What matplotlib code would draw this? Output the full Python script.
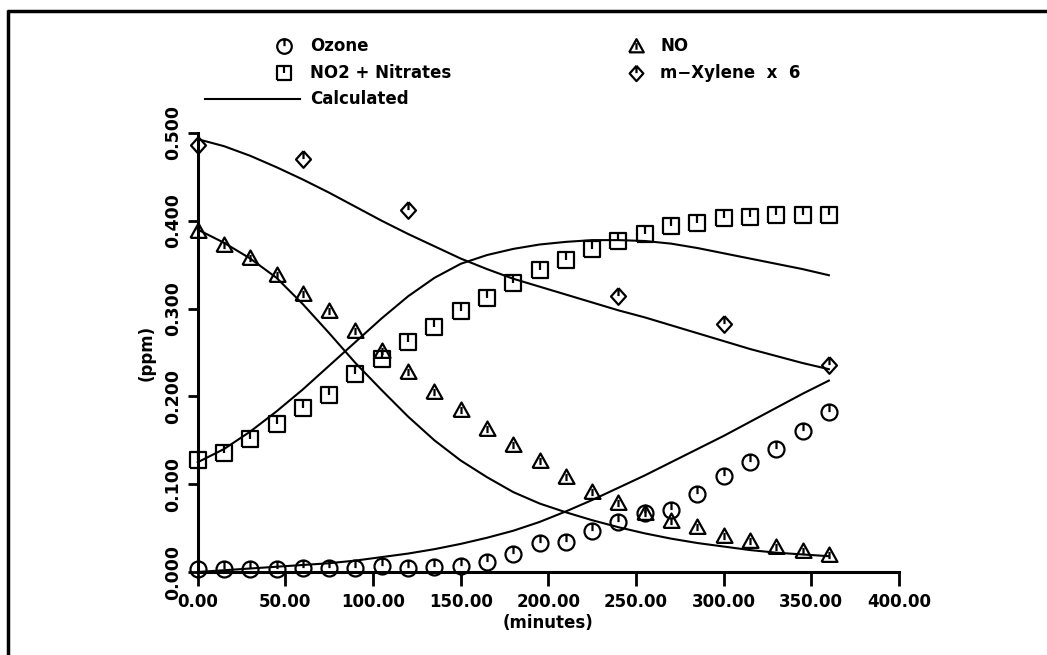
import numpy as np
import matplotlib
matplotlib.use("Agg")
import matplotlib.pyplot as plt
from matplotlib.path import Path
from matplotlib.lines import Line2D

# ---------------- data ----------------
t_obs = [0, 15, 30, 45, 60, 75, 90, 105, 120, 135, 150, 165, 180, 195, 210,
         225, 240, 255, 270, 285, 300, 315, 330, 345, 360]
ozone_obs = [0.003, 0.003, 0.003, 0.003, 0.005, 0.005, 0.005, 0.007, 0.004, 0.006,
             0.007, 0.011, 0.021, 0.033, 0.034, 0.047, 0.057, 0.067, 0.071, 0.089,
             0.109, 0.125, 0.140, 0.161, 0.182]
no_obs = [0.388, 0.372, 0.358, 0.338, 0.317, 0.297, 0.275, 0.252, 0.228, 0.205,
          0.184, 0.163, 0.145, 0.126, 0.108, 0.091, 0.079, 0.067, 0.058, 0.051,
          0.041, 0.035, 0.029, 0.024, 0.019]
no2_obs = [0.128, 0.136, 0.152, 0.168, 0.187, 0.202, 0.225, 0.243, 0.262, 0.279,
           0.297, 0.312, 0.329, 0.344, 0.355, 0.368, 0.377, 0.385, 0.394, 0.397,
           0.403, 0.404, 0.407, 0.407, 0.407]
t_xyl = [0, 60, 120, 240, 300, 360]
xyl_obs = [0.486, 0.470, 0.412, 0.314, 0.282, 0.236]

t_calc = [0, 15, 30, 45, 60, 75, 90, 105, 120, 135, 150, 165, 180, 195, 210,
          225, 240, 255, 270, 285, 300, 315, 330, 345, 360]
ozone_calc = [0.000, 0.002, 0.004, 0.006, 0.008, 0.010, 0.013, 0.017, 0.021, 0.026,
              0.032, 0.039, 0.047, 0.057, 0.069, 0.082, 0.096, 0.110, 0.125, 0.140,
              0.155, 0.171, 0.187, 0.203, 0.218]
no_calc = [0.390, 0.375, 0.357, 0.335, 0.305, 0.272, 0.238, 0.207, 0.177, 0.150,
           0.127, 0.108, 0.091, 0.078, 0.068, 0.059, 0.051, 0.044, 0.038, 0.033,
           0.029, 0.025, 0.022, 0.020, 0.018]
no2_calc = [0.125, 0.140, 0.160, 0.183, 0.208, 0.235, 0.262, 0.289, 0.314, 0.335,
            0.351, 0.361, 0.368, 0.373, 0.376, 0.378, 0.378, 0.377, 0.374, 0.369,
            0.363, 0.357, 0.351, 0.345, 0.338]
xyl_calc = [0.493, 0.485, 0.474, 0.461, 0.447, 0.432, 0.416, 0.400, 0.385, 0.371,
            0.357, 0.345, 0.334, 0.325, 0.316, 0.307, 0.298, 0.290, 0.281, 0.272,
            0.263, 0.254, 0.246, 0.238, 0.231]

x_ticks = [0, 50, 100, 150, 200, 250, 300, 350, 400]
y_ticks = [0.0, 0.1, 0.2, 0.3, 0.4, 0.5]
legend_labels = ["Ozone", "NO", "NO2 + Nitrates", "m\u2212Xylene  x  6", "Calculated"]

# ---------------- markers ----------------
M, L = Path.MOVETO, Path.LINETO

def with_tick(base_verts, tick):
    verts = list(base_verts) + [base_verts[0]] + list(tick)
    codes = [M] + [L] * (len(base_verts)) + [M, L]
    return Path(verts, codes)

circ = Path.unit_circle()
circle_mk = Path.make_compound_path(circ, Path([(0, 1), (0, 0.05)], [M, L]))
square_mk = with_tick([(-1, -1), (1, -1), (1, 1), (-1, 1)], [(0, 1), (0, 0.05)])
tri_mk = with_tick([(-1, -0.8), (1, -0.8), (0, 1)], [(0, 0.45), (0, -0.45)])
diam_mk = with_tick([(0, 1), (0.9, 0), (0, -1), (-0.9, 0)], [(0, 1), (0, 0.05)])

W, H = 1047, 655
fig = plt.figure(figsize=(W / 100, H / 100), dpi=100)
fig.patch.set_facecolor("white")
ax = fig.add_axes([197.7 / W, 1 - 572 / H, (899 - 197.7) / W, (572 - 133) / H])

lw = 1.5
mkw = dict(linestyle="none", markerfacecolor="none", markeredgecolor="black",
           markeredgewidth=1.6, clip_on=False)

ax.plot(t_calc, ozone_calc, color="black", lw=lw, clip_on=False)
ax.plot(t_calc, no_calc, color="black", lw=lw, clip_on=False)
ax.plot(t_calc, no2_calc, color="black", lw=lw, clip_on=False)
ax.plot(t_calc, xyl_calc, color="black", lw=lw, clip_on=False)

ax.plot(t_obs, ozone_obs, marker=circle_mk, markersize=11.5, **mkw)
ax.plot(t_obs, no_obs, marker=tri_mk, markersize=11.5, **mkw)
ax.plot(t_obs, no2_obs, marker=square_mk, markersize=11.5, **mkw)
ax.plot(t_xyl, xyl_obs, marker=diam_mk, markersize=12, **mkw)

ax.set_xlim(0, 400)
ax.set_ylim(0, 0.5)
ax.set_xticks(x_ticks)
ax.set_xticklabels([f"{v:.2f}" for v in x_ticks])
ax.set_yticks(y_ticks)
ax.set_yticklabels([f"{v:.3f}" for v in y_ticks], rotation=90, va="center")

for s in ["top", "right"]:
    ax.spines[s].set_visible(False)
for s in ["left", "bottom"]:
    ax.spines[s].set_linewidth(2.2)

font = dict(family="DejaVu Sans", weight="bold", size=12)
ax.tick_params(axis="x", direction="out", length=10, width=2, pad=5,
               labelsize=12)
ax.tick_params(axis="y", direction="out", length=7, width=2, pad=4,
               labelsize=12.5)
for lab in ax.get_xticklabels() + ax.get_yticklabels():
    lab.set_fontweight("bold")

ax.set_xlabel("(minutes)", fontsize=12, fontweight="bold", labelpad=2)
ax.set_ylabel("(ppm)", fontsize=12, fontweight="bold", labelpad=6)

# ---------------- legend (manual) ----------------
def fx(x):
    return x / W

def fy(y):
    return 1 - y / H

leg = [
    (284, 46, circle_mk, legend_labels[0], 310, 10.5),
    (636, 46, tri_mk, legend_labels[1], 660, 10.5),
    (284, 73, square_mk, legend_labels[2], 310, 10.5),
    (636, 73, diam_mk, legend_labels[3], 660, 11),
]
for mx, my, mk, txt, tx, ms in leg:
    fig.add_artist(Line2D([fx(mx)], [fy(my)], transform=fig.transFigure,
                          marker=mk, markersize=ms, **mkw))
    fig.text(fx(tx), fy(my), txt, ha="left", va="center", **font)
fig.add_artist(Line2D([fx(205), fx(300)], [fy(99), fy(99)],
                      transform=fig.transFigure, color="black", lw=lw))
fig.text(fx(310), fy(99), legend_labels[4], ha="left", va="center", **font)

# ---------------- outer frame ----------------
fig.add_artist(Line2D([fx(7), 1.0], [fy(10.5), fy(10.5)],
                      transform=fig.transFigure, color="black", lw=2.5,
                      solid_capstyle="butt"))
fig.add_artist(Line2D([fx(8), fx(8)], [0.0, fy(10)],
                      transform=fig.transFigure, color="black", lw=2.5,
                      solid_capstyle="butt"))

fig.savefig("out.png", dpi=100)
